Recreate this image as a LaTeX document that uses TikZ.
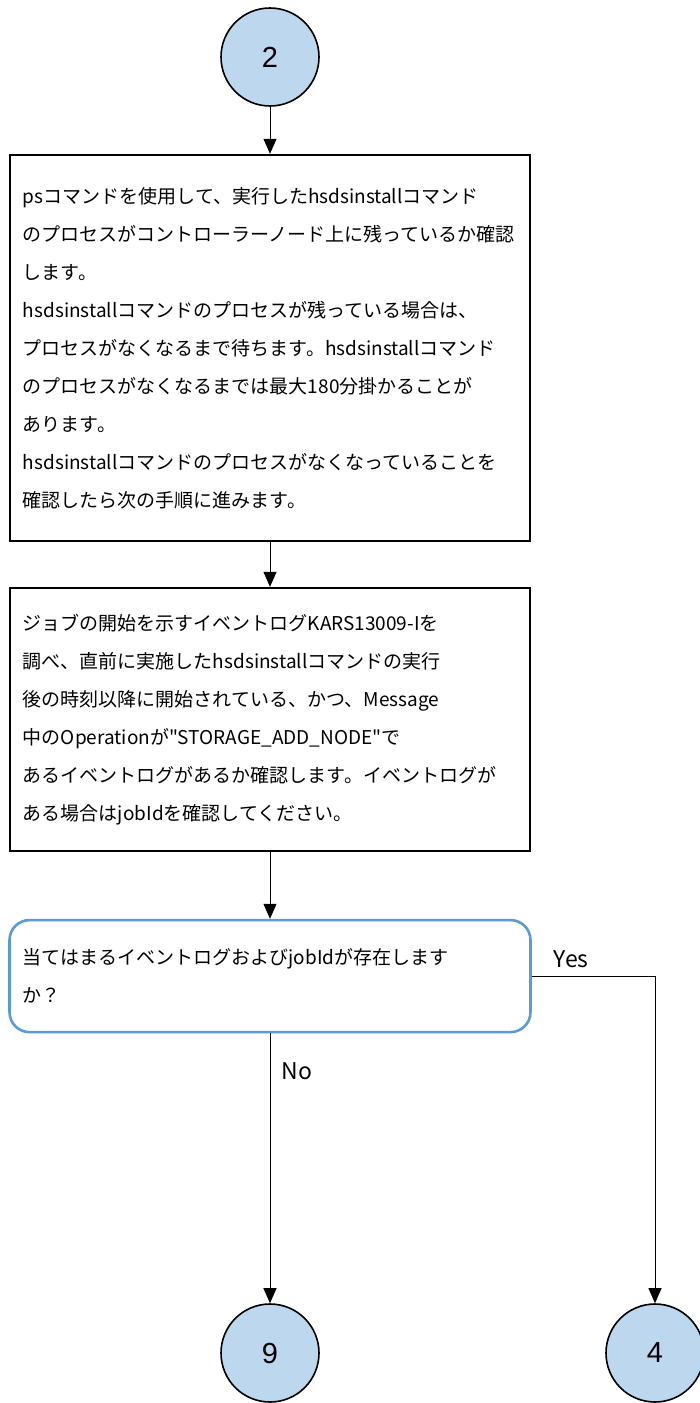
\documentclass[tikz,border=0pt]{standalone}
\usepackage{fontspec}
\setmainfont{Noto Sans CJK JP}[Ligatures=TeXOff]
\newfontfamily\numfont{Liberation Sans}
\usepackage{xcolor}
\usetikzlibrary{shapes.geometric, arrows.meta, positioning}
\definecolor{connfill}{HTML}{BDD7EE}
\definecolor{decblue}{HTML}{5B9BD5}

\begin{document}
\begin{tikzpicture}[
  x=1pt, y=1pt,
  % --- Box styles ---
  connector/.style={
    circle, draw=black, line width=1.6pt, fill=connfill,
    minimum size=98pt, inner sep=0pt,
    font=\numfont\fontsize{29}{32}\selectfont
  },
  stepbox/.style={
    rectangle, draw=black, line width=2pt,
    minimum width=520pt, text width=494pt, align=left,
    inner sep=0pt,
    font=\fontsize{19}{38}\selectfont
  },
  decisionbox/.style={
    rectangle, rounded corners=20pt, draw=decblue, line width=2.6pt,
    minimum width=521pt, minimum height=112pt, text width=494pt,
    align=left, inner sep=0pt,
    font=\fontsize{19}{38}\selectfont
  },
  % --- Arrows ---
  flow/.style={-{Triangle[width=13pt,length=15pt]}, line width=1pt, color=black},
  % --- Branch labels ---
  blbl/.style={font=\fontsize{23}{26}\selectfont},
]
\useasboundingbox (0,0) rectangle (699,-1403);

% ===================== CONNECTOR IN =====================
\node[connector] (start) at (270,-57) {2};

% ===================== STEPS =====================
\node[stepbox, minimum height=386pt, below=47pt of start] (psCheck)
  {psコマンドを使用して、実行したhsdsinstallコマンド\\
   のプロセスがコントローラーノード上に残っているか確認\\
   します。\\
   hsdsinstallコマンドのプロセスが残っている場合は、\\
   プロセスがなくなるまで待ちます。hsdsinstallコマンド\\
   のプロセスがなくなるまでは最大180分掛かることが\\
   あります。\\
   hsdsinstallコマンドのプロセスがなくなっていることを\\
   確認したら次の手順に進みます。};

\node[stepbox, minimum height=263pt, below=45pt of psCheck] (logCheck)
  {ジョブの開始を示すイベントログKARS13009-Iを\\
   調べ、直前に実施したhsdsinstallコマンドの実行\\
   後の時刻以降に開始されている、かつ、Message\\
   中のOperationが"STORAGE\_ADD\_NODE"で\\
   あるイベントログがあるか確認します。イベントログが\\
   ある場合はjobIdを確認してください。};

% ===================== DECISION =====================
\node[decisionbox, below=67pt of logCheck] (jobExists)
  {当てはまるイベントログおよびjobIdが存在します\\
   か？};

% ===================== CONNECTORS OUT =====================
\node[connector] (toNine) at (270,-1353) {9};
\node[connector] (toFour) at (655,-1353) {4};

% ================ MAIN FLOW ARROWS ================
\draw[flow] (start.south) -- (psCheck.north);
\draw[flow] (psCheck.south) -- (logCheck.north);
\draw[flow] (logCheck.south) -- (jobExists.north);

\draw[flow] (jobExists.south) --
  node[blbl, pos=0.14, right=8pt] {No}
  (toNine.north);

\draw[flow] (jobExists.east) -|
  node[blbl, pos=0.16, above=4pt] {Yes}
  (toFour.north);

\end{tikzpicture}
\end{document}
